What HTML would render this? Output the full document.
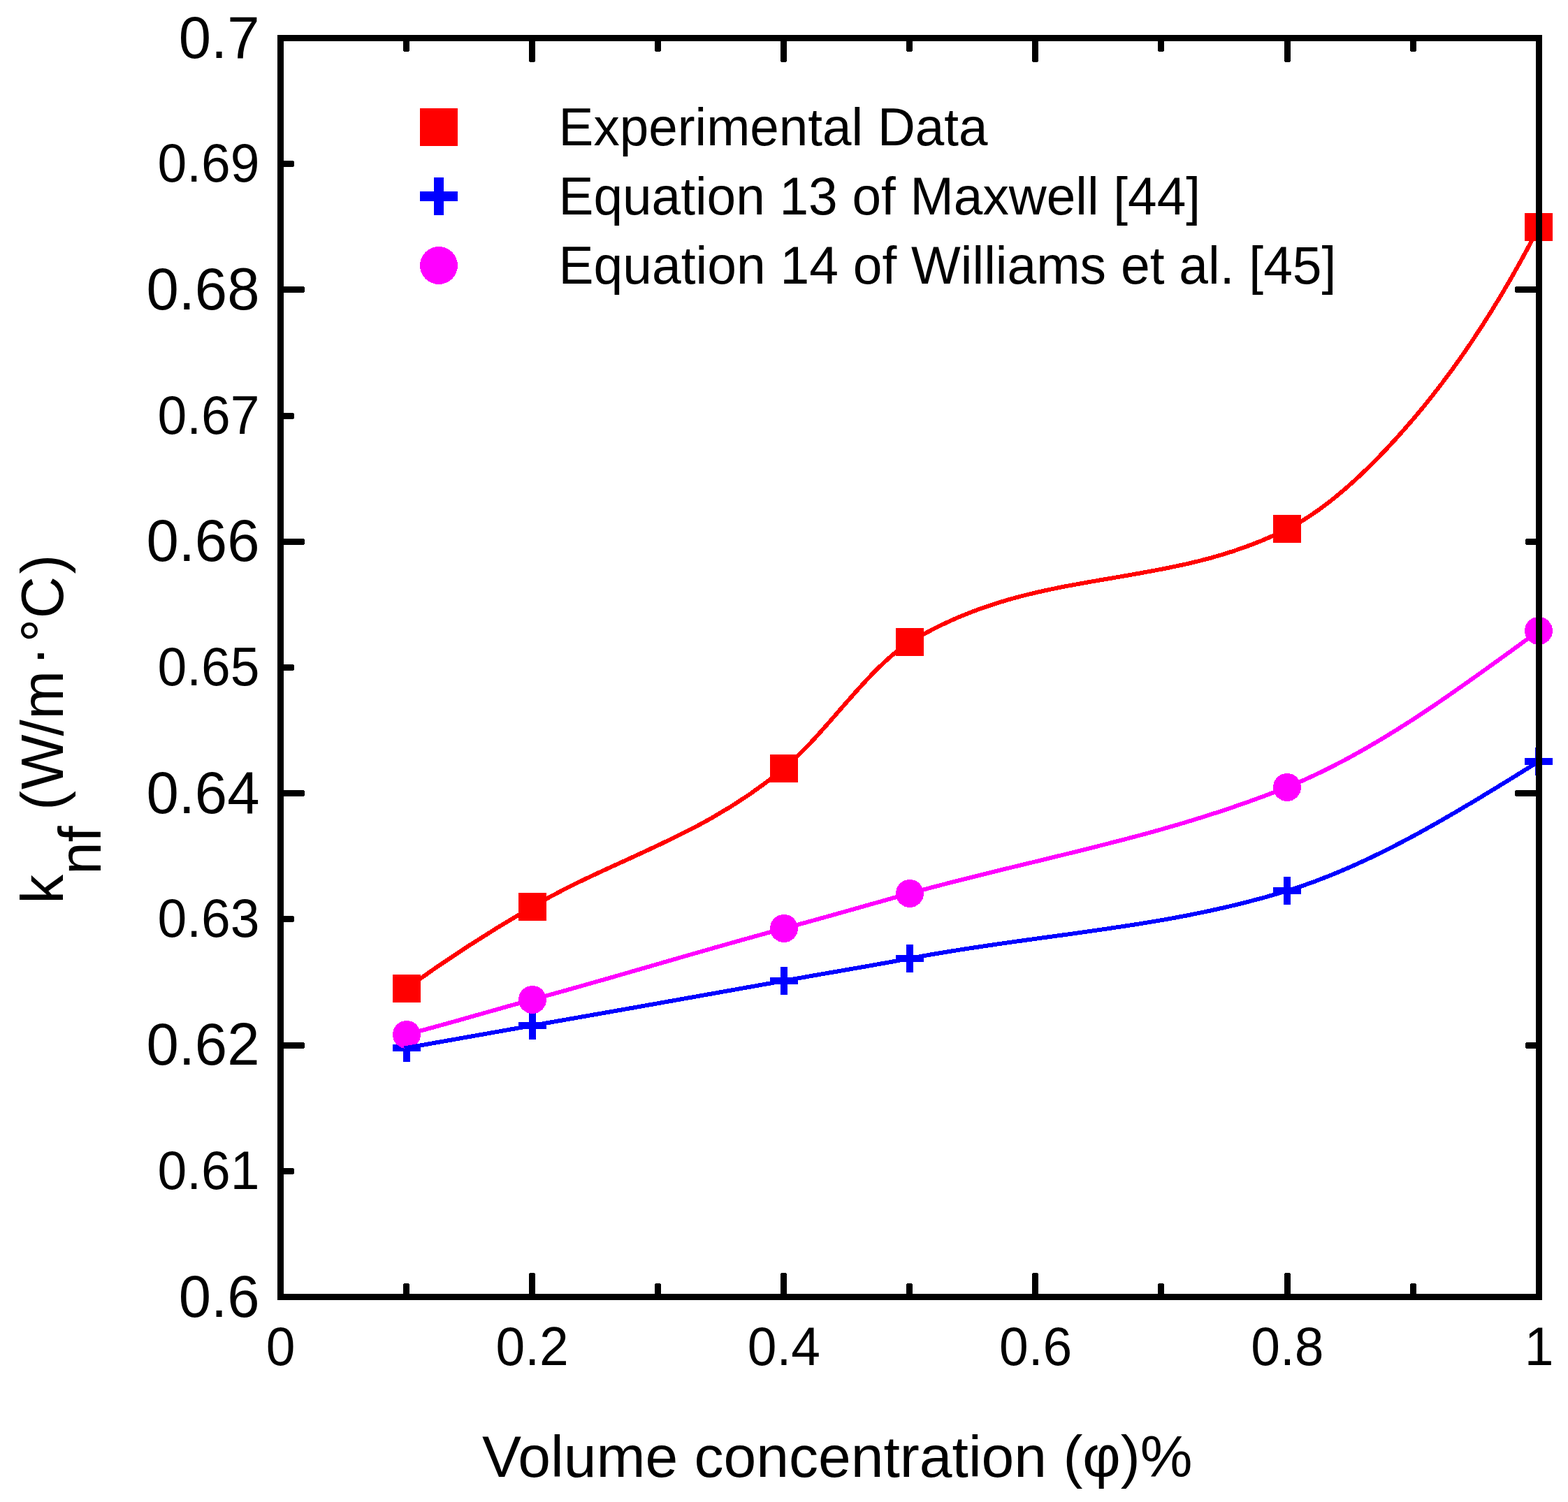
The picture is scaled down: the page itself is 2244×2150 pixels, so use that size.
<!DOCTYPE html>
<html lang="en">
<head>
<meta charset="utf-8">
<title>Thermal conductivity of nanofluid versus volume concentration</title>
<style>
html,body{margin:0;padding:0;background:#fff;}
body{width:2244px;height:2150px;overflow:hidden;}
svg{display:block;}
text{font-family:"Liberation Sans", Arial, Helvetica, sans-serif;fill:#000;}
.t75{font-size:75px;}
.t83{font-size:83.3px;}
</style>
</head>
<body>
<svg width="2244" height="2150" viewBox="0 0 2244 2150">
<rect x="0" y="0" width="2244" height="2150" fill="#ffffff"/>
<g id="markers" shape-rendering="crispEdges">
<rect x="562.0" y="1395.0" width="40" height="40" fill="#ff0000"/>
<rect x="742.0" y="1278.0" width="40" height="40" fill="#ff0000"/>
<rect x="1102.0" y="1080.0" width="40" height="40" fill="#ff0000"/>
<rect x="1282.0" y="899.0" width="40" height="40" fill="#ff0000"/>
<rect x="1822.0" y="737.0" width="40" height="40" fill="#ff0000"/>
<rect x="2182.0" y="305.0" width="40" height="40" fill="#ff0000"/>
<path d="M562 1495 h40 v10 h-40 z M577 1480 h10 v40 h-10 z" fill="#0000ff"/>
<path d="M742 1463 h40 v10 h-40 z M757 1448 h10 v40 h-10 z" fill="#0000ff"/>
<path d="M1102 1399 h40 v10 h-40 z M1117 1384 h10 v40 h-10 z" fill="#0000ff"/>
<path d="M1282 1367 h40 v10 h-40 z M1297 1352 h10 v40 h-10 z" fill="#0000ff"/>
<path d="M1822 1270 h40 v10 h-40 z M1837 1255 h10 v40 h-10 z" fill="#0000ff"/>
<path d="M2182 1085 h40 v10 h-40 z M2197 1070 h10 v40 h-10 z" fill="#0000ff"/>
<circle cx="582.0" cy="1481.0" r="20" fill="#ff00ff"/>
<circle cx="762.0" cy="1431.0" r="20" fill="#ff00ff"/>
<circle cx="1122.0" cy="1329.0" r="20" fill="#ff00ff"/>
<circle cx="1302.0" cy="1279.0" r="20" fill="#ff00ff"/>
<circle cx="1842.0" cy="1127.0" r="20" fill="#ff00ff"/>
<circle cx="2202.0" cy="903.0" r="20" fill="#ff00ff"/>
</g>
<g id="curves" fill="none" stroke-width="6" stroke-linecap="square" stroke-linejoin="round" shape-rendering="crispEdges">
<path d="M581.6 1415.0 C641.6 1371.4 701.7 1333.0 761.7 1298.0 C881.8 1227.9 1001.8 1199.8 1121.9 1100.0 C1181.9 1050.1 1242.0 956.2 1302.0 919.4 C1482.1 808.9 1662.2 847.6 1842.3 757.3 C1902.3 727.2 1962.4 670.2 2022.4 600.0 C2082.4 529.7 2142.5 441.3 2202.5 324.8" stroke="#ff0000"/>
<path d="M581.6 1500.0 C641.6 1489.3 701.7 1478.7 761.7 1468.0 C881.8 1446.7 1001.8 1426.1 1121.9 1404.0 C1181.9 1393.0 1242.0 1383.4 1302.0 1371.9 C1482.1 1337.3 1662.2 1330.6 1842.3 1275.1 C1962.4 1238.1 2082.4 1165.1 2202.5 1089.7" stroke="#0000ff"/>
<path d="M581.6 1480.8 C641.6 1465.4 701.7 1447.1 761.7 1430.9 C881.8 1398.5 1001.8 1361.1 1121.9 1329.0 C1181.9 1313.0 1242.0 1295.4 1302.0 1278.8 C1482.1 1228.9 1662.2 1199.0 1842.3 1126.7 C1962.4 1078.5 2082.4 990.9 2202.5 902.6" stroke="#ff00ff"/>
</g>
<g id="axes" shape-rendering="crispEdges">
<g id="ticks" fill="#000">
<rect x="577.0" y="1837.0" width="9" height="19.5" rx="3" ry="3"/>
<rect x="577.0" y="54.5" width="9" height="19.5" rx="3" ry="3"/>
<rect x="757.0" y="1822.0" width="9" height="34.5" rx="3" ry="3"/>
<rect x="757.0" y="54.5" width="9" height="34.5" rx="3" ry="3"/>
<rect x="937.0" y="1837.0" width="9" height="19.5" rx="3" ry="3"/>
<rect x="937.0" y="54.5" width="9" height="19.5" rx="3" ry="3"/>
<rect x="1117.0" y="1822.0" width="9" height="34.5" rx="3" ry="3"/>
<rect x="1117.0" y="54.5" width="9" height="34.5" rx="3" ry="3"/>
<rect x="1297.0" y="1837.0" width="9" height="19.5" rx="3" ry="3"/>
<rect x="1297.0" y="54.5" width="9" height="19.5" rx="3" ry="3"/>
<rect x="1477.0" y="1822.0" width="9" height="34.5" rx="3" ry="3"/>
<rect x="1477.0" y="54.5" width="9" height="34.5" rx="3" ry="3"/>
<rect x="1657.0" y="1837.0" width="9" height="19.5" rx="3" ry="3"/>
<rect x="1657.0" y="54.5" width="9" height="19.5" rx="3" ry="3"/>
<rect x="1838.0" y="1822.0" width="9" height="34.5" rx="3" ry="3"/>
<rect x="1838.0" y="54.5" width="9" height="34.5" rx="3" ry="3"/>
<rect x="2018.0" y="1837.0" width="9" height="19.5" rx="3" ry="3"/>
<rect x="2018.0" y="54.5" width="9" height="19.5" rx="3" ry="3"/>
<rect x="401.5" y="1672.0" width="19.5" height="9" rx="3" ry="3"/>
<rect x="401.5" y="1492.0" width="34.5" height="9" rx="3" ry="3"/>
<rect x="2183.0" y="1492.0" width="19.5" height="9" rx="3" ry="3"/>
<rect x="401.5" y="1311.0" width="19.5" height="9" rx="3" ry="3"/>
<rect x="401.5" y="1131.0" width="34.5" height="9" rx="3" ry="3"/>
<rect x="2168.0" y="1131.0" width="34.5" height="9" rx="3" ry="3"/>
<rect x="401.5" y="951.0" width="19.5" height="9" rx="3" ry="3"/>
<rect x="401.5" y="771.0" width="34.5" height="9" rx="3" ry="3"/>
<rect x="2183.0" y="771.0" width="19.5" height="9" rx="3" ry="3"/>
<rect x="401.5" y="591.0" width="19.5" height="9" rx="3" ry="3"/>
<rect x="401.5" y="410.0" width="34.5" height="9" rx="3" ry="3"/>
<rect x="2168.0" y="410.0" width="34.5" height="9" rx="3" ry="3"/>
<rect x="401.5" y="230.0" width="19.5" height="9" rx="3" ry="3"/>
</g>
<rect x="401.5" y="54.5" width="1801.0" height="1802.0" fill="none" stroke="#000" stroke-width="9"/>
</g>
<g id="yticks" text-anchor="end">
<text class="t83" transform="translate(371.50 1884.50) scale(1 1.025)">0.6</text>
<text class="t75" transform="translate(371.50 1701.70) scale(1 1.04)">0.61</text>
<text class="t83" transform="translate(371.50 1524.10) scale(1 1.025)">0.62</text>
<text class="t75" transform="translate(371.50 1341.30) scale(1 1.04)">0.63</text>
<text class="t83" transform="translate(371.50 1163.70) scale(1 1.025)">0.64</text>
<text class="t75" transform="translate(371.50 980.90) scale(1 1.04)">0.65</text>
<text class="t83" transform="translate(371.50 803.30) scale(1 1.025)">0.66</text>
<text class="t75" transform="translate(371.50 620.50) scale(1 1.04)">0.67</text>
<text class="t83" transform="translate(371.50 442.90) scale(1 1.025)">0.68</text>
<text class="t75" transform="translate(371.50 260.10) scale(1 1.04)">0.69</text>
<text class="t83" transform="translate(371.50 82.50) scale(1 1.025)">0.7</text>
</g>
<g id="xticks" text-anchor="middle">
<text class="t75" transform="translate(401.50 1953.80) scale(1 1.04)">0</text>
<text class="t75" transform="translate(761.70 1953.80) scale(1 1.04)">0.2</text>
<text class="t75" transform="translate(1121.90 1953.80) scale(1 1.04)">0.4</text>
<text class="t75" transform="translate(1482.10 1953.80) scale(1 1.04)">0.6</text>
<text class="t75" transform="translate(1842.30 1953.80) scale(1 1.04)">0.8</text>
<text class="t75" transform="translate(2202.50 1953.80) scale(1 1.04)">1</text>
</g>
<g id="legend">
<g shape-rendering="crispEdges">
<rect x="601" y="155" width="54" height="54" fill="#ff0000"/>
<path d="M601 274 h54 v14 h-54 z M621 254 h14 v54 h-14 z" fill="#0000ff"/>
<circle cx="628" cy="380" r="27" fill="#ff00ff"/>
</g>
<text class="t75" transform="translate(799.60 207.90) scale(0.9954 1.015)">Experimental Data</text>
<text class="t75" transform="translate(799.60 307.40) scale(0.997 1.015)">Equation 13 of Maxwell [44]</text>
<text class="t75" transform="translate(799.60 406.40) scale(1.0 1.015)">Equation 14 of Williams et al. [45]</text>
</g>
<text class="t83" transform="translate(689.90 2114.00) scale(1.009 1.0)">Volume concentration (φ)%</text>
<text id="ytitle" class="t83" transform="translate(90.00 1293.40) rotate(-90) scale(1 1.02)"><tspan x="0.0" y="0.0">k</tspan><tspan x="41.7" y="52.9">nf</tspan><tspan x="115.0 133.7 163.3 239.9 263.9" y="0.0"> (W/m</tspan><tspan x="340.4" y="-7.7">·</tspan><tspan x="374.1 408.2 472.0" y="0.0">°C)</tspan></text>
</svg>
</body>
</html>
